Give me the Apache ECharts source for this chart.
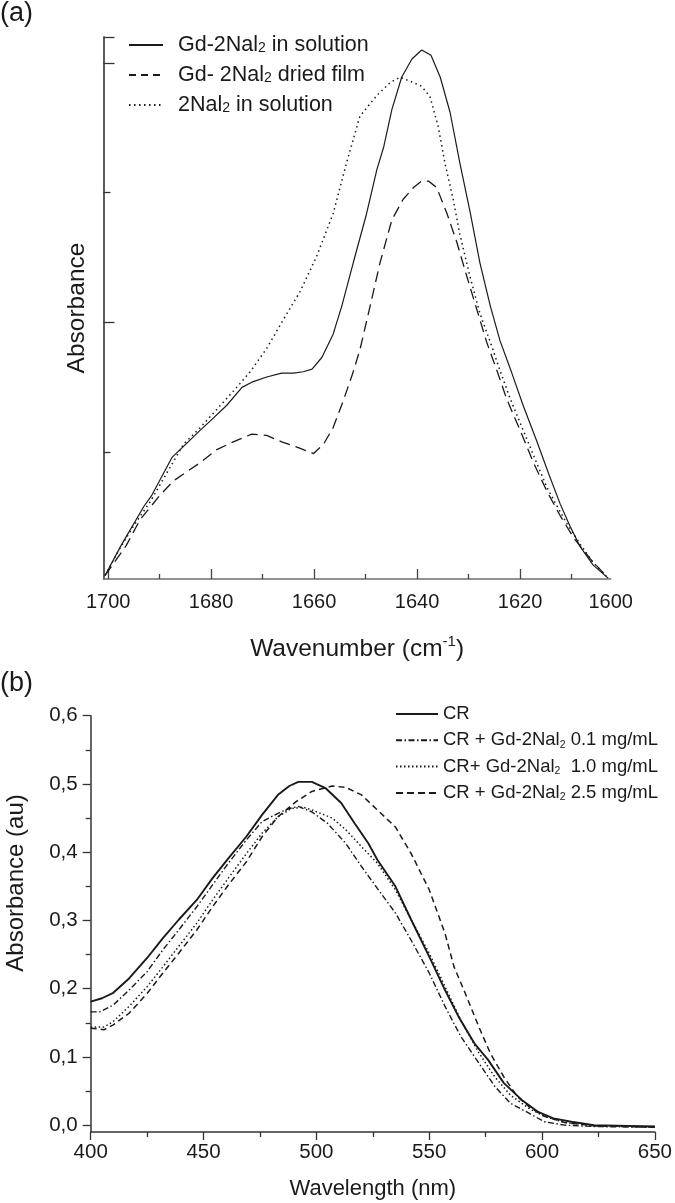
<!DOCTYPE html>
<html><head><meta charset="utf-8">
<script src="https://cdn.jsdelivr.net/npm/echarts@6/dist/echarts.min.js"></script>
<style>html,body{margin:0;padding:0;background:#fff}#c{width:675px;height:1203px}</style>
</head><body><div id="c"></div>
<script>
// ---------- Panel (a): FTIR amide I region ----------
const aNames = ['Gd-2Nal2 in solution', 'Gd- 2Nal2 dried film', '2Nal2 in solution'];
const aTickLabels = [1700, 1680, 1660, 1640, 1620, 1600];

const waveSolution = [1700.6,1697.5,1693.1,1691.5,1687.6,1684.7,1682.1,1680.2,1677.0,1674.0,1672.1,1669.2,1666.3,1664.0,1662.1,1660.4,1658.5,1656.3,1654.6,1652.4,1649.8,1647.8,1646.5,1644.9,1643.0,1641.0,1639.1,1637.3,1635.5,1633.6,1631.7,1629.7,1627.8,1625.8,1623.9,1621.6,1619.4,1616.8,1614.5,1612.2,1610.3,1608.3,1605.8,1602.9];
const absSolution  = [0.005,0.028,0.058,0.067,0.096,0.107,0.117,0.124,0.136,0.150,0.154,0.158,0.161,0.161,0.162,0.164,0.173,0.191,0.213,0.246,0.284,0.318,0.335,0.364,0.389,0.403,0.410,0.406,0.389,0.362,0.323,0.285,0.246,0.213,0.186,0.161,0.136,0.109,0.084,0.060,0.043,0.027,0.013,0.003];

const waveFilm = [1700.6,1696.5,1693.8,1689.9,1687.3,1682.1,1678.9,1675.7,1672.1,1669.2,1666.3,1662.7,1660.1,1658.2,1656.3,1654.3,1652.4,1651.1,1649.1,1647.2,1644.9,1642.7,1640.7,1639.1,1637.8,1636.2,1634.2,1632.3,1630.3,1628.4,1626.5,1624.5,1622.6,1620.0,1617.4,1614.8,1612.2,1609.6,1606.4,1602.9];
const absFilm  = [0.005,0.028,0.048,0.067,0.078,0.092,0.102,0.108,0.114,0.113,0.108,0.103,0.099,0.106,0.119,0.140,0.162,0.179,0.213,0.246,0.279,0.295,0.304,0.309,0.309,0.304,0.284,0.262,0.235,0.210,0.185,0.163,0.141,0.117,0.092,0.070,0.051,0.034,0.018,0.003];

const waveNal = [1700.6,1697.7,1695.1,1691.8,1688.6,1685.4,1682.1,1678.9,1675.7,1672.4,1669.2,1666.0,1662.7,1659.5,1656.3,1653.7,1651.1,1647.8,1645.2,1643.3,1641.4,1639.1,1637.5,1635.9,1634.6,1633.0,1631.7,1629.7,1627.8,1625.8,1623.9,1621.9,1619.4,1616.8,1614.8,1612.9,1610.9,1608.3,1605.8,1602.9];
const absNal  = [0.005,0.026,0.043,0.062,0.084,0.106,0.119,0.133,0.147,0.162,0.180,0.202,0.224,0.251,0.284,0.323,0.359,0.375,0.385,0.389,0.386,0.382,0.374,0.351,0.323,0.295,0.268,0.235,0.207,0.185,0.163,0.141,0.117,0.092,0.073,0.059,0.045,0.029,0.015,0.003];

// ---------- Panel (b): UV-vis of Congo red ----------
const bNames = ['CR', 'CR + Gd-2Nal2 0.1 mg/mL', 'CR+ Gd-2Nal2  1.0 mg/mL', 'CR + Gd-2Nal2 2.5 mg/mL'];
const bYTicks = [0, 0.1, 0.2, 0.3, 0.4, 0.5, 0.6];
const bYMinor = [0.05, 0.15, 0.25, 0.35, 0.45, 0.55];

const wlCR = [400,405,410,417,425,432,439,447,454,461,469,476,483,488,492,498,504,511,517,523,527,535,542,550,557,563,570,576,583,591,598,605,613,623,638,650];
const absCR = [0.181,0.186,0.194,0.215,0.245,0.274,0.301,0.330,0.362,0.391,0.423,0.455,0.484,0.497,0.503,0.503,0.494,0.472,0.442,0.413,0.389,0.350,0.301,0.247,0.198,0.159,0.120,0.096,0.062,0.037,0.020,0.010,0.005,0.000,-0.001,-0.002];

const wl01 = [400,404,410,417,425,432,439,447,454,461,469,476,483,488,492,498,505,513,520,527,535,542,550,557,564,572,579,586,594,601,610,623,650];
const abs01 = [0.166,0.166,0.176,0.198,0.225,0.257,0.286,0.320,0.352,0.384,0.418,0.445,0.457,0.464,0.467,0.459,0.442,0.413,0.379,0.347,0.311,0.271,0.223,0.174,0.130,0.091,0.057,0.032,0.018,0.005,0.000,-0.002,-0.003];

const wl10 = [400,406,410,417,425,432,439,447,454,461,469,476,483,489,494,498,507,513,520,527,535,542,550,557,564,572,579,586,594,601,610,623,650];
const abs10 = [0.144,0.144,0.152,0.174,0.203,0.232,0.262,0.296,0.330,0.362,0.398,0.428,0.452,0.464,0.466,0.462,0.450,0.433,0.408,0.384,0.345,0.301,0.252,0.203,0.154,0.106,0.071,0.044,0.025,0.013,0.004,-0.001,-0.002];

const wl25 = [400,406,410,417,425,432,439,447,454,461,469,476,483,491,498,507,513,520,527,535,542,550,557,561,566,572,577,583,589,595,601,610,623,650];
const abs25 = [0.142,0.140,0.147,0.164,0.193,0.223,0.252,0.286,0.320,0.352,0.386,0.423,0.452,0.474,0.489,0.497,0.495,0.484,0.462,0.437,0.398,0.345,0.281,0.232,0.193,0.144,0.106,0.071,0.042,0.025,0.013,0.004,-0.001,-0.003];

// ---------- build ----------
const FONT = 'Liberation Sans, Arial, Helvetica, sans-serif';
const INK = '#1a1a1a';
const zip = (xs, ys) => xs.map((x, i) => [x, ys[i]]);
const subFmt = n => n.replace('Nal2', 'Nal{s|2}');

const aMin = 1602.4, aMax = 1700.9;
function line(name, xs, ys, xi, yi, width, type) {
  return {
    name, type: 'line', xAxisIndex: xi, yAxisIndex: yi, data: zip(xs, ys),
    symbol: 'none', showSymbol: false, color: INK, smooth: false,
    lineStyle: { color: INK, width, type }, emphasis: { disabled: true }, z: 3
  };
}

const option = {
  animation: false,
  backgroundColor: '#ffffff',
  textStyle: { fontFamily: FONT, color: INK },
  grid: [
    { left: 103.5, top: 37, width: 507.2, height: 542 },
    { left: 90.7, top: 715.7, width: 567.5, height: 416.3 }
  ],
  xAxis: [
    { gridIndex: 0, type: 'value', position: 'bottom', min: aMin, max: aMax, inverse: true,
      axisLine: { show: true, onZero: false, lineStyle: { color: '#6e6e6e', width: 1.6 } },
      axisTick: { show: true, inside: true, length: 10, customValues: aTickLabels.slice(0, 5), lineStyle: { color: '#444', width: 1.3 } },
      axisLabel: { customValues: [1700, 1680, 1660, 1640, 1620, aMin], formatter: v => String(Math.round(v / 20) * 20),
        fontSize: 20, color: INK, margin: 13, fontFamily: FONT },
      splitLine: { show: false },
      name: 'Wavenumber (cm{sup|-1})', nameLocation: 'middle', nameGap: 55,
      nameTextStyle: { fontSize: 24.5, color: INK, fontFamily: FONT, lineHeight: 30,
        rich: { sup: { fontSize: 15, lineHeight: 14, verticalAlign: 'top', fontFamily: FONT, color: INK } } } },
    { gridIndex: 0, type: 'value', position: 'bottom', min: aMin, max: aMax, inverse: true,
      axisLine: { show: false, onZero: false },
      axisTick: { show: true, inside: true, length: 5, customValues: [1690, 1670, 1650, 1630, 1610], lineStyle: { color: '#444', width: 1.3 } },
      axisLabel: { show: false }, splitLine: { show: false } },
    { gridIndex: 1, type: 'value', position: 'bottom', min: 400, max: 650, interval: 50,
      axisLine: { show: true, onZero: false, lineStyle: { color: '#333', width: 1.5 } },
      axisTick: { show: true, inside: false, length: 8, lineStyle: { color: '#333', width: 1.3 } },
      minorTick: { show: true, splitNumber: 2, length: 5, lineStyle: { color: '#333', width: 1.3 } },
      axisLabel: { fontSize: 20.5, color: INK, margin: 10, fontFamily: FONT },
      splitLine: { show: false },
      name: 'Wavelength (nm)', nameLocation: 'middle', nameGap: 46,
      nameTextStyle: { fontSize: 22, color: INK, fontFamily: FONT } }
  ],
  yAxis: [
    { gridIndex: 0, type: 'value', position: 'left', min: 0.0023, max: 0.42,
      axisLine: { show: true, onZero: false, lineStyle: { color: '#333', width: 1.6 } },
      axisTick: { show: true, inside: true, length: 11, customValues: [0.2, 0.4, 0.42], lineStyle: { color: '#333', width: 1.3 } },
      axisLabel: { show: false }, splitLine: { show: false },
      name: 'Absorbance', nameLocation: 'middle', nameGap: 14,
      nameTextStyle: { fontSize: 24.5, color: INK, fontFamily: FONT } },
    { gridIndex: 0, type: 'value', position: 'left', min: 0.0023, max: 0.42,
      axisLine: { show: false, onZero: false },
      axisTick: { show: true, inside: true, length: 7, customValues: [0.1, 0.3], lineStyle: { color: '#333', width: 1.3 } },
      axisLabel: { show: false }, splitLine: { show: false } },
    { gridIndex: 1, type: 'value', position: 'left', min: -0.01, max: 0.6,
      axisLine: { show: true, onZero: false, lineStyle: { color: '#333', width: 1.5 } },
      axisTick: { show: true, inside: false, length: 8, customValues: bYTicks, lineStyle: { color: '#333', width: 1.3 } },
      axisLabel: { customValues: bYTicks, formatter: v => v.toFixed(1).replace('.', ','), fontSize: 20.5, color: INK, margin: 13, fontFamily: FONT },
      splitLine: { show: false } },
    { gridIndex: 1, type: 'value', position: 'left', min: -0.01, max: 0.6,
      axisLine: { show: false, onZero: false },
      axisTick: { show: true, inside: false, length: 5, customValues: bYMinor, lineStyle: { color: '#333', width: 1.3 } },
      axisLabel: { show: false }, splitLine: { show: false } }
  ],
  legend: [
    { orient: 'vertical', left: 128, top: 34, padding: 0, itemWidth: 34, itemHeight: 14, itemGap: 8,
      selectedMode: false, formatter: subFmt, itemStyle: { opacity: 0 },
      data: [
        { name: aNames[0] },
        { name: aNames[1], lineStyle: { type: [7, 5] } },
        { name: aNames[2] }
      ],
      textStyle: { fontSize: 21.5, color: INK, fontFamily: FONT, lineHeight: 20, padding: [0, 0, 0, 10],
        rich: { s: { fontSize: 14, lineHeight: 6, verticalAlign: 'bottom', color: INK, fontFamily: FONT } } } },
    { orient: 'vertical', left: 395, top: 704, padding: 0, itemWidth: 42, itemHeight: 14, itemGap: 6.3,
      selectedMode: false, formatter: subFmt, itemStyle: { opacity: 0 },
      data: [
        { name: bNames[0] },
        { name: bNames[1] },
        { name: bNames[2] },
        { name: bNames[3], lineStyle: { type: [7, 4] } }
      ],
      textStyle: { fontSize: 18.5, color: INK, fontFamily: FONT, lineHeight: 20,
        rich: { s: { fontSize: 10.5, lineHeight: 1, verticalAlign: 'bottom', color: INK, fontFamily: FONT } } } }
  ],
  graphic: [
    { type: 'text', left: 0, top: 0, style: { text: '(a)', fontSize: 27, fill: INK, fontFamily: FONT } },
    { type: 'text', left: 0, top: 670, style: { text: '(b)', fontSize: 27, fill: INK, fontFamily: FONT } },
    { type: 'text', x: 16, y: 883, rotation: Math.PI / 2,
      style: { text: 'Absorbance (au)', fontSize: 24, fill: INK, fontFamily: FONT, align: 'center', verticalAlign: 'middle' } }
  ],
  series: [
    line(aNames[0], waveSolution, absSolution, 0, 0, 1.2, 'solid'),
    line(aNames[1], waveFilm, absFilm, 0, 0, 1.3, [11, 6]),
    line(aNames[2], waveNal, absNal, 0, 0, 1.5, [1.5, 3.5]),
    line(bNames[0], wlCR, absCR, 2, 2, 1.9, 'solid'),
    line(bNames[1], wl01, abs01, 2, 2, 1.4, [6, 2.5, 1.5, 2.5]),
    line(bNames[2], wl10, abs10, 2, 2, 1.5, [1.5, 2.5]),
    line(bNames[3], wl25, abs25, 2, 2, 1.5, [6, 4])
  ]
};
const chart = echarts.init(document.getElementById('c'), null, { renderer: 'canvas' });
chart.setOption(option);
</script>
</body></html>
